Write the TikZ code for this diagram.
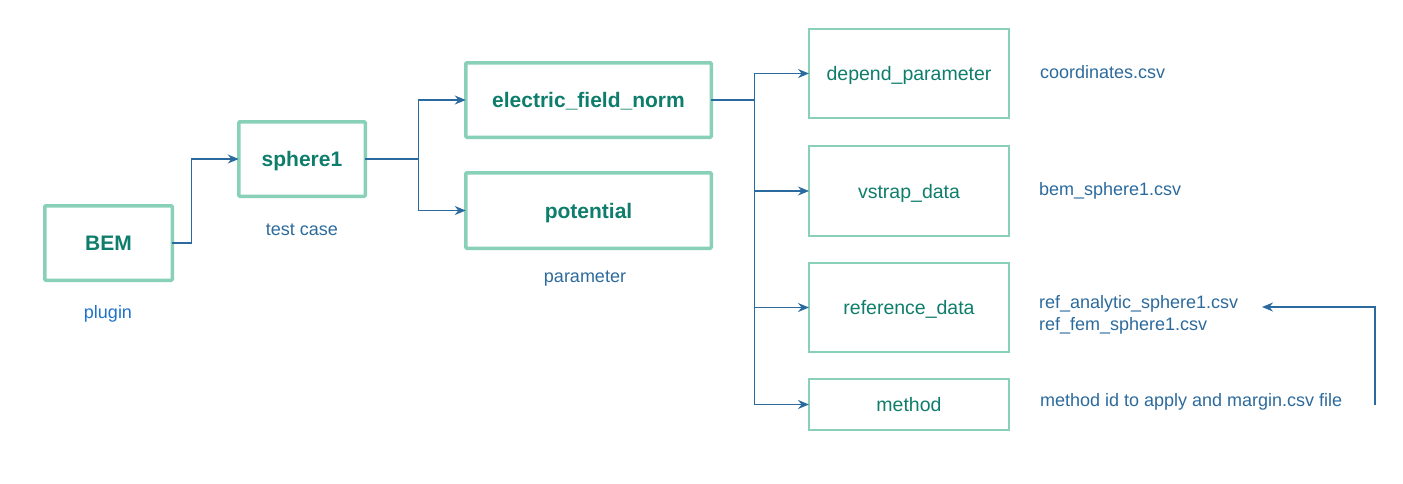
\documentclass[tikz,border=0pt]{standalone}
\usepackage{fontspec}
\setmainfont{Liberation Sans}
\usetikzlibrary{arrows.meta}
\definecolor{boxgreen}{HTML}{88D0B8}
\definecolor{tealtext}{HTML}{0E7D6B}
\definecolor{bluetext}{HTML}{2C6A9C}
\definecolor{plugblue}{HTML}{1E73C8}
\definecolor{linkblue}{HTML}{2A6A9E}
\tikzset{
  bigbox/.style={draw=boxgreen, line width=3.5pt, rounded corners=1pt, outer sep=0pt, inner sep=0pt,
    text=tealtext, font=\fontsize{21}{25}\selectfont\bfseries, align=center,
    text height=15pt, text depth=0pt},
  smallbox/.style={draw=boxgreen, line width=2pt, outer sep=0pt, inner sep=0pt,
    text=tealtext, font=\fontsize{19.5}{23}\selectfont, align=center,
    text height=14pt, text depth=0pt},
  note/.style={text=bluetext, font=\fontsize{18}{22}\selectfont, inner sep=0pt, outer sep=0pt,
    text height=13pt, text depth=0pt},
  link/.style={draw=linkblue, line width=1.3pt, -{Stealth[length=11pt,width=9pt]}},
}
\begin{document}
\begin{tikzpicture}[x=1pt,y=-1pt]
\useasboundingbox (0,0) rectangle (1403,483);
% main boxes
\node[bigbox, minimum width=127.5pt, minimum height=74.5pt] (bem) at (108.5,243) {BEM};
\node[bigbox, minimum width=126.5pt, minimum height=74.5pt] (sph) at (302,159) {sphere1};
\node[bigbox, minimum width=245.5pt, minimum height=74.5pt] (efn) at (588.5,100) {electric\_field\_norm};
\node[bigbox, minimum width=245.5pt, minimum height=75.5pt] (pot) at (588.5,210.5) {potential};
% right boxes
\node[smallbox, minimum width=200pt, minimum height=89pt] (dep) at (909,73.5) {depend\_parameter};
\node[smallbox, minimum width=200pt, minimum height=90pt] (vst) at (909,191) {vstrap\_data};
\node[smallbox, minimum width=200pt, minimum height=89pt] (ref) at (909,307.5) {reference\_data};
\node[smallbox, minimum width=200pt, minimum height=51pt] (met) at (909,404.5) {method};
% captions
\node[note, text=plugblue] (plugin) at (108,312) {plugin};
\node[note] (testcase) at (302,229) {test case};
\node[note] (param) at (585,276) {parameter};
% file notes
\node[note, anchor=west] (coord) at (1040,72) {coordinates.csv};
\node[note, anchor=west] (bemcsv) at (1039,189) {bem\_sphere1.csv};
\node[note, anchor=west] (refan) at (1039,302) {ref\_analytic\_sphere1.csv};
\node[note, anchor=west] (reffem) at (1039,324) {ref\_fem\_sphere1.csv};
\node[note, anchor=west] (mid) at (1040,400) {method id to apply and margin.csv file};
% connectors
\draw[link] (bem.east) -- ++(19,0) |- (sph.west);
\draw[link] (sph.east) -- ++(53,0) |- (efn.west);
\draw[link] (sph.east) -- ++(53,0) |- (pot.west);
\draw[link] (efn.east) -- ++(43,0) |- (dep.west);
\draw[link] (efn.east) -- ++(43,0) |- (vst.west);
\draw[link] (efn.east) -- ++(43,0) |- (ref.west);
\draw[link] (efn.east) -- ++(43,0) |- (met.west);
\coordinate (fbstart) at (1375,405);
\coordinate (fbend) at (1262,307);
\draw[link] (fbstart) |- (fbend);
\end{tikzpicture}
\end{document}
